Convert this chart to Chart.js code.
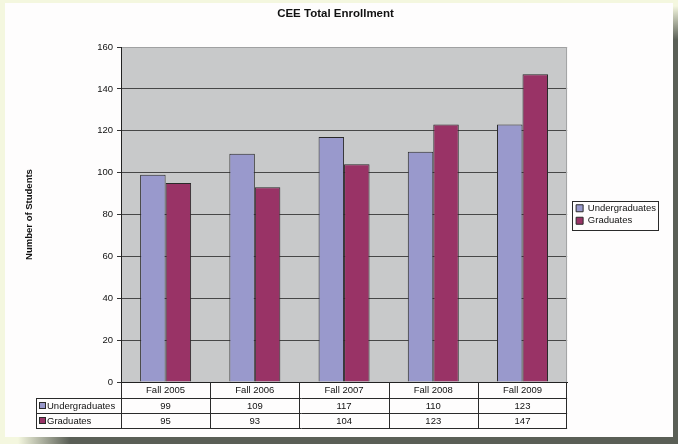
<!DOCTYPE html>
<html><head><meta charset="utf-8">
<script src="https://cdn.jsdelivr.net/npm/chart.js@4.4.0/dist/chart.umd.min.js"></script>
<style>html,body{margin:0;padding:0;background:#f4f7df;}canvas{display:block;}</style>
</head><body>
<canvas id="c" width="678" height="444"></canvas>
<script>
// ---- data ----
const categories = ['Fall 2005', 'Fall 2006', 'Fall 2007', 'Fall 2008', 'Fall 2009'];
const seriesNames = ['Undergraduates', 'Graduates'];
const undergraduates = [99, 109, 117, 110, 123];
const graduates = [95, 93, 104, 123, 147];
const seriesColors = ['#9999cc', '#993366'];
const yMin = 0, yMax = 160, yStep = 20;
const chartTitle = 'CEE Total Enrollment';
const yTitle = 'Number of Students';

const FONT = 'Arial, "Liberation Sans", sans-serif';
const TEXT = '#111111';
const LINE = '#2a2a2a';

function hline(ctx, x1, x2, y) { y = Math.round(y) + 0.5; ctx.beginPath(); ctx.moveTo(x1, y); ctx.lineTo(x2, y); ctx.stroke(); }
function vline(ctx, x, y1, y2) { x = Math.round(x) + 0.5; ctx.beginPath(); ctx.moveTo(x, y1); ctx.lineTo(x, y2); ctx.stroke(); }

const framePlugin = {
  id: 'frame',
  beforeDraw(chart) {
    const ctx = chart.ctx, W = chart.width, H = chart.height, a = chart.chartArea;
    ctx.save();
    ctx.fillStyle = '#f4f7df';
    ctx.fillRect(0, 0, W, H);
    let g = ctx.createLinearGradient(0, 6, 0, 40);
    g.addColorStop(0, 'rgba(90,95,86,0)'); g.addColorStop(1, '#5a5f56');
    ctx.fillStyle = g; ctx.fillRect(673, 6, W - 673, H - 6);
    g = ctx.createLinearGradient(18, 0, 70, 0);
    g.addColorStop(0, 'rgba(90,95,86,0)'); g.addColorStop(1, '#5a5f56');
    ctx.fillStyle = g; ctx.fillRect(18, 437, W - 18, H - 437);
    ctx.fillStyle = '#5a5f56'; ctx.fillRect(673, 437, W - 673, H - 437);
    ctx.fillStyle = '#fefdfd';
    ctx.fillRect(5, 3, 668, 434);
    ctx.fillStyle = '#c8c9ca';
    ctx.fillRect(a.left, a.top, a.right - a.left, a.bottom - a.top);
    ctx.restore();
  },
  afterDraw(chart) {
    const ctx = chart.ctx, a = chart.chartArea, xs = chart.scales.x;
    ctx.save();
    // right border of plot area
    ctx.strokeStyle = '#a4a5a6'; ctx.lineWidth = 1;
    vline(ctx, a.right - 1, a.top, a.bottom);
    // legend border
    const hb = chart.legend.legendHitBoxes;
    if (hb && hb.length) {
      const l = hb[0].left - 4, t = hb[0].top - 3;
      let r = 0; hb.forEach(h => { r = Math.max(r, h.left + h.width); });
      const last = hb[hb.length - 1];
      const b = last.top + last.height + 3.5;
      ctx.strokeStyle = LINE;
      ctx.strokeRect(Math.round(l) + 0.5, Math.round(t) + 0.5, Math.round(r + 2 - l), Math.round(b - t));
    }
    // data table
    const n = categories.length;
    const cw = (a.right - a.left) / n;
    const tableLeft = 36;
    const r0 = a.bottom, r1 = a.bottom + 16, r2 = r1 + 15, r3 = r2 + 15;
    ctx.strokeStyle = LINE; ctx.lineWidth = 1;
    hline(ctx, tableLeft, a.right, r1);
    hline(ctx, tableLeft, a.right, r2);
    hline(ctx, tableLeft, a.right, r3);
    vline(ctx, tableLeft, r1, r3 + 1);
    for (let i = 0; i <= n; i++) {
      const x = i < n ? xs.getPixelForValue(i) - cw / 2 : xs.getPixelForValue(n - 1) + cw / 2;
      vline(ctx, Math.min(x, a.right - 1), r0, r3 + 1);
    }
    ctx.font = '9.5px ' + FONT;
    ctx.fillStyle = TEXT;
    ctx.textAlign = 'center'; ctx.textBaseline = 'middle';
    const rows = [undergraduates, graduates];
    categories.forEach((c, i) => {
      const x = xs.getPixelForValue(i);
      ctx.fillText(c, x, (r0 + r1) / 2 + 0.5);
      ctx.fillText(String(rows[0][i]), x, (r1 + r2) / 2 + 0.5);
      ctx.fillText(String(rows[1][i]), x, (r2 + r3) / 2 + 0.5);
    });
    // row labels with keys
    ctx.textAlign = 'left';
    [[r1, r2], [r2, r3]].forEach((rr, k) => {
      const cy = (rr[0] + rr[1]) / 2;
      ctx.fillStyle = seriesColors[k];
      ctx.fillRect(39, Math.round(cy - 3.5), 7, 7);
      ctx.strokeStyle = LINE;
      ctx.strokeRect(39.5, Math.round(cy - 3.5) + 0.5, 6, 6);
      ctx.fillStyle = TEXT;
      ctx.fillText(seriesNames[k], 47, cy + 0.5);
    });
    ctx.restore();
  }
};

new Chart(document.getElementById('c'), {
  type: 'bar',
  data: {
    labels: categories,
    datasets: [
      { label: seriesNames[0], data: undergraduates, backgroundColor: seriesColors[0], borderColor: '#2a2a2a', borderWidth: 1 },
      { label: seriesNames[1], data: graduates, backgroundColor: seriesColors[1], borderColor: '#2a2a2a', borderWidth: 1 }
    ]
  },
  options: {
    responsive: false,
    animation: false,
    devicePixelRatio: 1,
    layout: { padding: { left: 5, right: 12, top: 0, bottom: 0 } },
    datasets: { bar: { categoryPercentage: 0.5714, barPercentage: 1 } },
    plugins: {
      title: {
        display: true, text: chartTitle, color: TEXT,
        font: { family: FONT, size: 11.5, weight: 'bold' },
        padding: { top: 7.1, bottom: 26.1 }
      },
      legend: {
        display: true, position: 'right', fullSize: false, align: 'center',
        labels: { boxWidth: 7, boxHeight: 7, padding: 3, color: TEXT, font: { family: FONT, size: 9.5 } }
      },
      tooltip: { enabled: false }
    },
    scales: {
      x: {
        ticks: { display: false },
        grid: { display: false },
        border: { color: '#222222', width: 1 },
        afterFit: s => { s.height = 62; }
      },
      y: {
        min: yMin, max: yMax,
        ticks: { stepSize: yStep, padding: 4, color: TEXT, font: { family: FONT, size: 9.5 } },
        grid: {
          color: c => (c.tick && c.tick.value === yMax) ? '#a0a1a2' : '#474747',
          tickColor: '#333333', tickLength: 4, lineWidth: 1
        },
        border: { color: '#222222', width: 1 },
        title: { display: true, text: yTitle, color: TEXT, font: { family: FONT, size: 9.5, weight: 'bold' }, padding: { top: 18.6, bottom: 0 } },
        afterFit: s => { s.width = 116; }
      },
      gap: {
        type: 'linear', position: 'right', display: true,
        grid: { display: false }, ticks: { display: false }, border: { display: false },
        afterFit: s => { s.width = 6; }
      }
    }
  },
  plugins: [framePlugin]
});
</script>
</body></html>
